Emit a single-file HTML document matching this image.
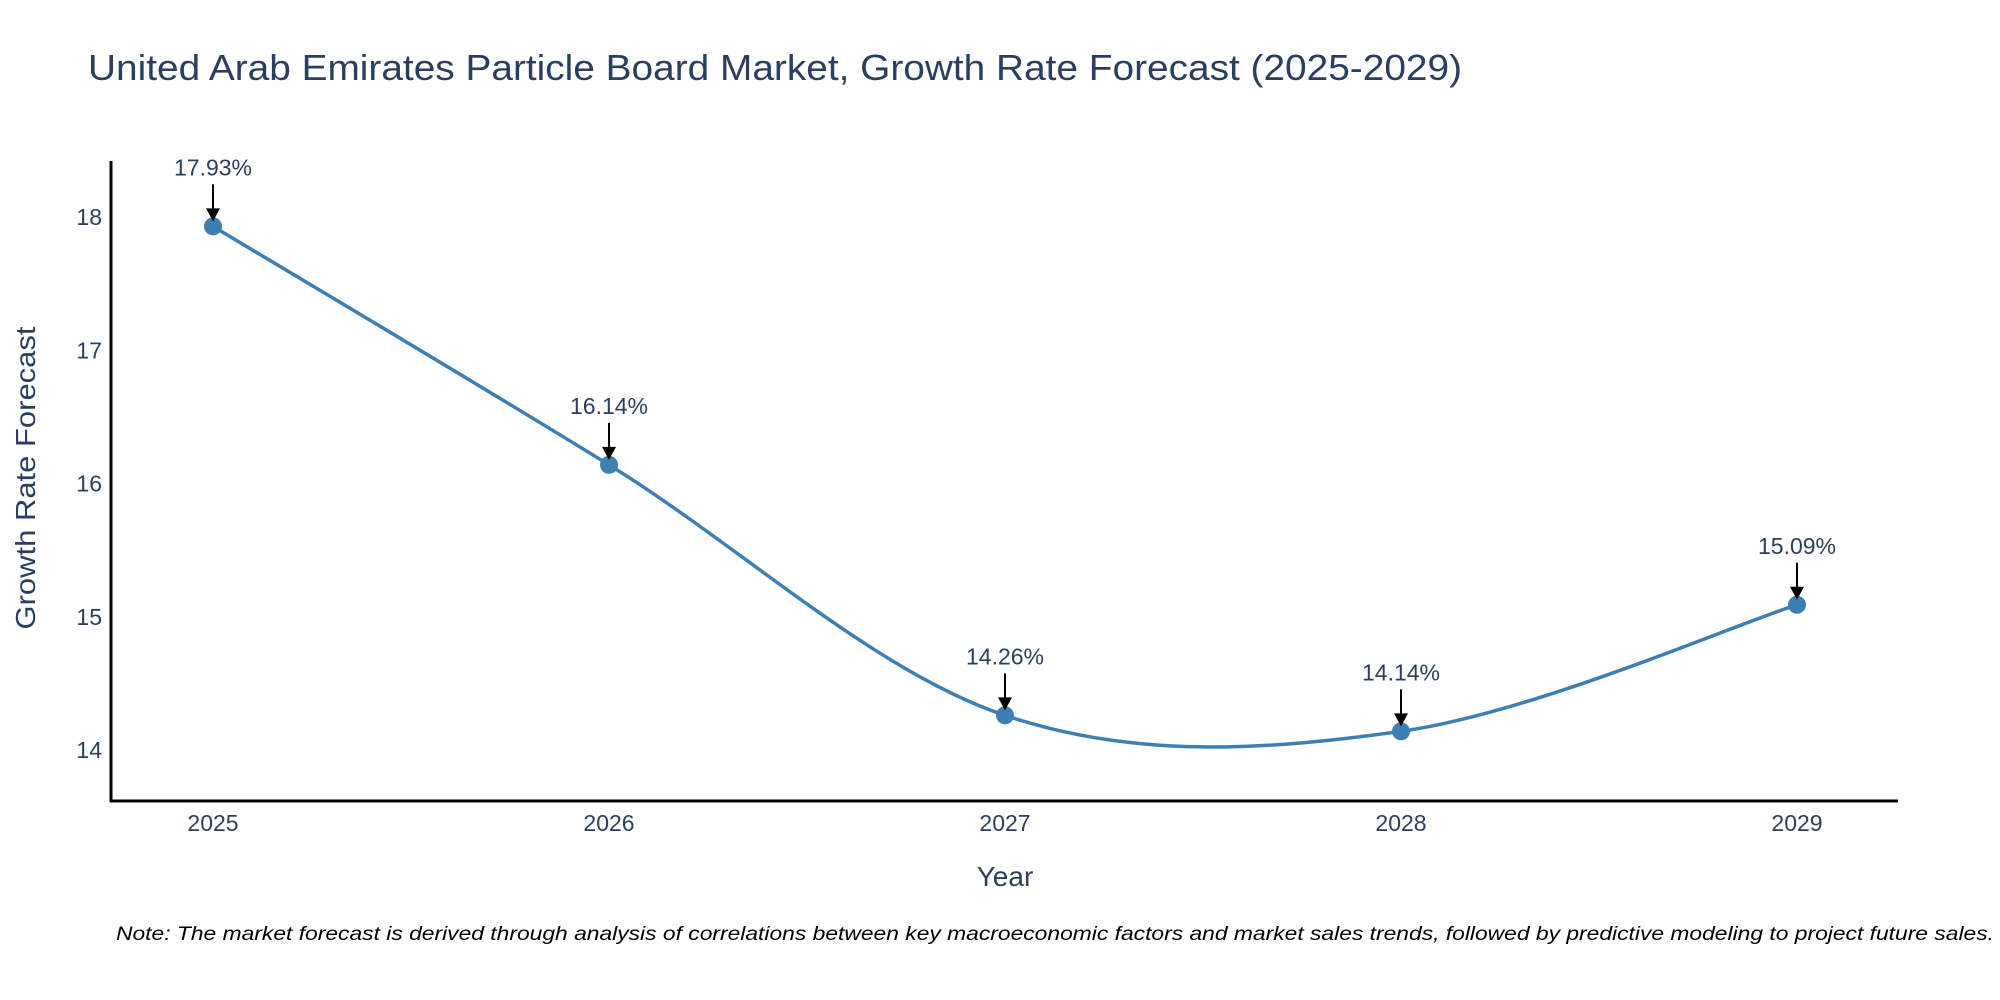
<!DOCTYPE html>
<html><head><meta charset="utf-8"><style>
html,body{margin:0;padding:0;background:#fff;}
svg{display:block;font-family:"Liberation Sans","DejaVu Sans",sans-serif;}
</style></head><body>
<svg id="chart" width="2000" height="1000" viewBox="0 0 2000 1000" xmlns="http://www.w3.org/2000/svg">
<text x="88" y="80" font-size="36" fill="#2a3f5f" textLength="1374" lengthAdjust="spacingAndGlyphs">United Arab Emirates Particle Board Market, Growth Rate Forecast (2025-2029)</text>
<g id="plot"></g>
<line x1="111" y1="161" x2="111" y2="802" stroke="#000" stroke-width="3"/>
<line x1="110" y1="801" x2="1898" y2="801" stroke="#000" stroke-width="3"/>
<text transform="translate(35,478) rotate(-90)" text-anchor="middle" font-size="28" fill="#2a3f5f" textLength="303" lengthAdjust="spacingAndGlyphs">Growth Rate Forecast</text>
<text x="1005" y="886" text-anchor="middle" font-size="28" fill="#2a3f5f">Year</text>
<text x="116" y="940" font-size="19" font-style="italic" fill="#000" textLength="1878" lengthAdjust="spacingAndGlyphs">Note: The market forecast is derived through analysis of correlations between key macroeconomic factors and market sales trends, followed by predictive modeling to project future sales.</text>
</svg>
<script>
const years = [2025, 2026, 2027, 2028, 2029];
const values = [17.93, 16.14, 14.26, 14.14, 15.09];
const labels = ["17.93%", "16.14%", "14.26%", "14.14%", "15.09%"];
const yTicks = [14, 15, 16, 17, 18];

const NS = "http://www.w3.org/2000/svg";
const g = document.getElementById("plot");
const xPx = v => 213 + (v - 2025) * (1797 - 213) / 4;
const yPx = v => 750 - (v - 14) * (750 - 217) / 4;
function mk(tag, attrs){ const e = document.createElementNS(NS, tag); for (const k in attrs) e.setAttribute(k, attrs[k]); g.appendChild(e); return e; }

yTicks.forEach(t => {
  const e = mk("text", {x: 102, y: yPx(t) + 8, "text-anchor": "end", "font-size": 23, fill: "#2a3f5f"});
  
  
  e.textContent = t;
});
years.forEach(yr => {
  const e = mk("text", {x: xPx(yr), y: 831, "text-anchor": "middle", "font-size": 23, fill: "#2a3f5f"});
  
  
  e.textContent = yr;
});

// smooth spline through points (catmull-rom)
const pts = years.map((yr, i) => [xPx(yr), yPx(values[i])]);
let d = "M" + pts[0][0] + "," + pts[0][1];
for (let i = 0; i < pts.length - 1; i++) {
  const p0 = pts[Math.max(0, i - 1)], p1 = pts[i], p2 = pts[i + 1], p3 = pts[Math.min(pts.length - 1, i + 2)];
  const t = 1 / 6;
  const c1 = [p1[0] + (p2[0] - p0[0]) * t, p1[1] + (p2[1] - p0[1]) * t];
  const c2 = [p2[0] - (p3[0] - p1[0]) * t, p2[1] - (p3[1] - p1[1]) * t];
  d += " C" + c1[0] + "," + c1[1] + " " + c2[0] + "," + c2[1] + " " + p2[0] + "," + p2[1];
}
const line = mk("path", {d: d, fill: "none", stroke: "#3d7fb3", "stroke-width": 3.5});



pts.forEach((p, i) => {
  const c = mk("circle", {cx: p[0], cy: p[1], r: 9, fill: "#3d7fb3"});
  
  
  const a = mk("line", {x1: p[0], y1: p[1] - 42, x2: p[0], y2: p[1] - 16, stroke: "#000", "stroke-width": 2});
  
  
  const h = mk("polygon", {points: (p[0]-7)+","+(p[1]-18)+" "+(p[0]+7)+","+(p[1]-18)+" "+p[0]+","+(p[1]-5), fill: "#000"});
  
  
  const tx = mk("text", {x: p[0], y: p[1] - 51, "text-anchor": "middle", "font-size": 23, fill: "#2a3f5f"});
  
  
  tx.textContent = labels[i];
});
</script>
</body></html>
